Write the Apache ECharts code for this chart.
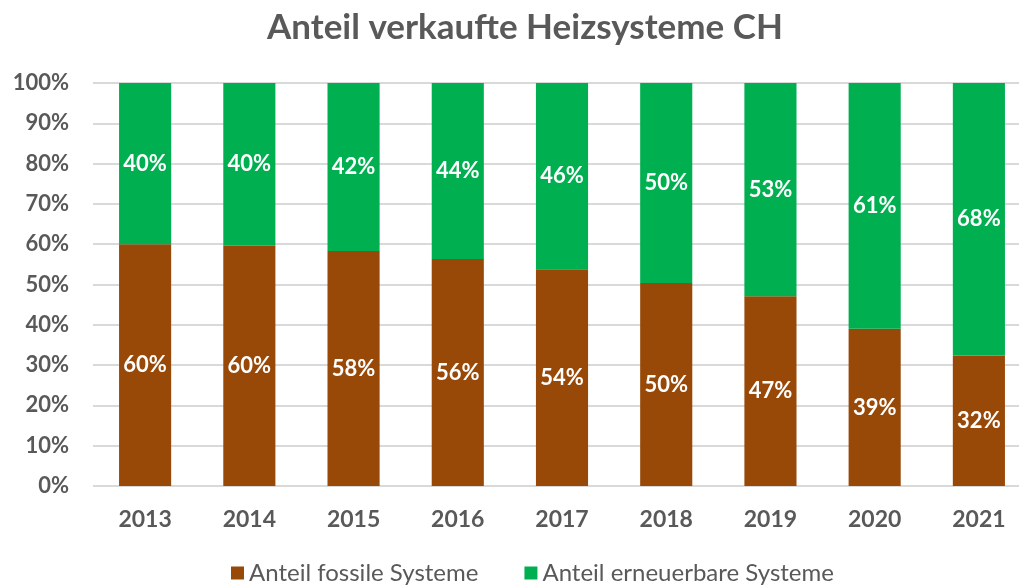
<!DOCTYPE html>
<html>
<head>
<meta charset="utf-8">
<script src="https://cdn.jsdelivr.net/npm/echarts@6/dist/echarts.min.js"></script>
<style>
  html, body { margin: 0; padding: 0; background: #fff; }
  #chart { width: 1019px; height: 588px; }
</style>
</head>
<body>
<div id="chart"></div>
<script>
const years = ["2013", "2014", "2015", "2016", "2017", "2018", "2019", "2020", "2021"];
const fossil = [60.0, 59.6, 58.3, 56.3, 53.8, 50.4, 47.1, 39.0, 32.4];
const renewable = [40.0, 40.4, 41.7, 43.7, 46.2, 49.6, 52.9, 61.0, 67.6];

const font = "Lato";
const grey = "#595959";

const labelStyle = {
  show: true,
  position: "inside",
  color: "#fff",
  fontFamily: font,
  fontWeight: "bold",
  fontSize: 22,
  formatter: (p) => Math.round(p.value) + "%",
};

const chart = echarts.init(document.getElementById("chart"));
chart.setOption({
  animation: false,
  title: {
    text: "Anteil verkaufte Heizsysteme CH",
    left: 262,
    top: 5,
    textStyle: { color: grey, fontFamily: font, fontWeight: "bold", fontSize: 35 },
  },
  grid: { left: 93, width: 938, top: 83, bottom: 102, containLabel: false, outerBoundsMode: "none" },
  legend: {
    bottom: -2,
    left: 226,
    itemWidth: 13,
    itemHeight: 13,
    itemGap: 46,
    icon: "rect",
    textStyle: { color: grey, fontFamily: font, fontSize: 24 },
  },
  xAxis: {
    type: "category",
    data: years,
    axisLine: { show: false },
    axisTick: { show: false },
    axisLabel: { color: grey, fontFamily: font, fontWeight: "bold", fontSize: 23, margin: 22 },
  },
  yAxis: {
    type: "value",
    min: 0,
    max: 100,
    interval: 10,
    axisLine: { show: false },
    axisTick: { show: false },
    splitLine: { lineStyle: { color: "#d9d9d9", width: 2 } },
    axisLabel: { color: grey, fontFamily: font, fontWeight: "bold", fontSize: 22, margin: 24, formatter: "{value}%" },
  },
  series: [
    {
      name: "Anteil fossile Systeme",
      type: "bar",
      stack: "total",
      barWidth: "50%",
      data: fossil,
      itemStyle: { color: "#984807" },
      label: labelStyle,
    },
    {
      name: "Anteil erneuerbare Systeme",
      type: "bar",
      stack: "total",
      barWidth: "50%",
      data: renewable,
      itemStyle: { color: "#00b050" },
      label: labelStyle,
    },
  ],
});
</script>
</body>
</html>
